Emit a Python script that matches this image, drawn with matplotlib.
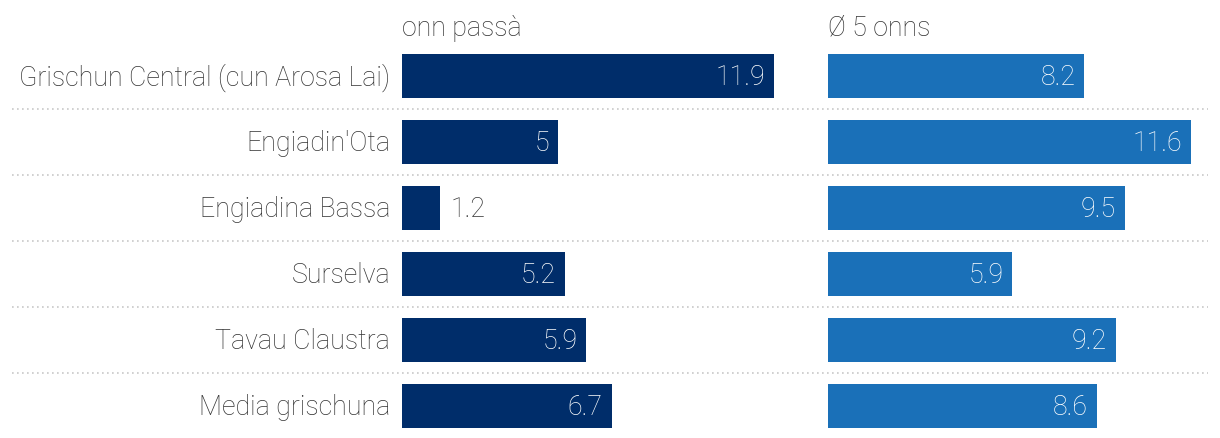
import matplotlib
matplotlib.use("Agg")
import matplotlib.pyplot as plt
from matplotlib import font_manager

categories = ["Grischun Central (cun Arosa Lai)", "Engiadin'Ota", "Engiadina Bassa",
              "Surselva", "Tavau Claustra", "Media grischuna"]
last_year = [11.9, 5, 1.2, 5.2, 5.9, 6.7]
avg_5y = [8.2, 11.6, 9.5, 5.9, 9.2, 8.6]
labels_last = ["11.9", "5", "1.2", "5.2", "5.9", "6.7"]
labels_avg = ["8.2", "11.6", "9.5", "5.9", "9.2", "8.6"]
headers = ["onn passà", "Ø 5 onns"]

DARK = "#002d6a"
LIGHT = "#1a70b8"
TXT = "#333333"

names = {f.name for f in font_manager.fontManager.ttflist}
fam = "Roboto" if "Roboto" in names else "DejaVu Sans"
plt.rcParams["font.family"] = [fam, "DejaVu Sans"]

W, H = 1220, 438
fig = plt.figure(figsize=(W / 100, H / 100), dpi=100)

px_per_unit = 31.27
row_h = 66
top = 43  # px from top of first row band
n = len(categories)
FS = 19.3
WEIGHT = "light"

def axes_rect(x0, width):
    bottom = H - (top + n * row_h)
    return [x0 / W, bottom / H, width / W, n * row_h / H]

# background axes for separators and labels
bg = fig.add_axes(axes_rect(0, W))
bg.set_xlim(0, W)
bg.set_ylim(n - 0.5, -0.5)
bg.axis("off")
for i in range(n - 1):
    bg.plot([12, 1208], [i + 0.5, i + 0.5], color="#c8c8c8", lw=1.2,
            linestyle=(0, (1, 2)), clip_on=False)
for i, c in enumerate(categories):
    bg.text(390, i + 0.02, c, ha="right", va="center", fontsize=FS, color=TXT,
            fontweight=WEIGHT)

panel_w = 385
for x0, vals, labs, col, head in [(402, last_year, labels_last, DARK, headers[0]),
                                  (828, avg_5y, labels_avg, LIGHT, headers[1])]:
    ax = fig.add_axes(axes_rect(x0, panel_w))
    ax.set_xlim(0, panel_w / px_per_unit)
    ax.set_ylim(n - 0.5, -0.5)
    ax.axis("off")
    ax.patch.set_alpha(0)
    ax.barh(range(n), vals, height=44 / row_h, color=col)
    for i, (v, l) in enumerate(zip(vals, labs)):
        if v * px_per_unit > 50:
            ax.text(v - 9 / px_per_unit, i + 0.02, l, ha="right", va="center",
                    fontsize=FS, color="white", fontweight=WEIGHT)
        else:
            ax.text(v + 11 / px_per_unit, i + 0.02, l, ha="left", va="center",
                    fontsize=FS, color=TXT, fontweight=WEIGHT)
    fig.text(x0 / W, 1 - 28.5 / H, head, ha="left", va="center", fontsize=FS,
             color=TXT, fontweight=WEIGHT)

fig.savefig("out.png", dpi=100)
